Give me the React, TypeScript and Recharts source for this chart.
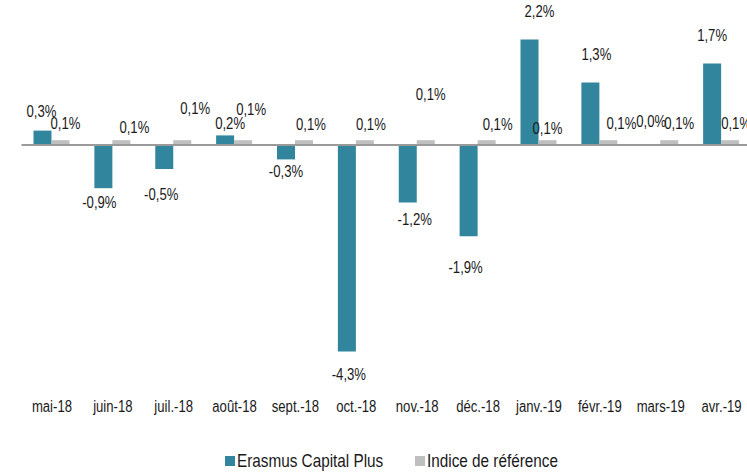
import * as React from 'react';
import { Bar, BarChart, LabelList, ReferenceLine, XAxis, YAxis } from 'recharts';

const months = [
  'mai-18', 'juin-18', 'juil.-18', 'août-18', 'sept.-18', 'oct.-18',
  'nov.-18', 'déc.-18', 'janv.-19', 'févr.-19', 'mars-19', 'avr.-19',
];
const erasmusCapitalPlus = [0.3, -0.9, -0.5, 0.2, -0.3, -4.3, -1.2, -1.9, 2.2, 1.3, 0.0, 1.7];
const indiceReference = [0.1, 0.1, 0.1, 0.1, 0.1, 0.1, 0.1, 0.1, 0.1, 0.1, 0.1, 0.1];

const SERIES_NAMES = ['Erasmus Capital Plus', 'Indice de référence'];
const TEAL = '#31859c';
const GREY = '#bfbfbf';
const INK = '#1a1a1a';
const FONT = "'Liberation Sans', Arial, sans-serif";
// the source uses a narrow face; Liberation Sans squeezed horizontally gets close
const NARROW = 0.82;

// label placement, the way the source chart had them (distance from bar end, sideways shift)
const fundLabelGap = [19, 14, 26, 12, 12, 23, 17, 31, 28, 28, 22, 28];
const fundLabelShift = [-1, -4, -3, 5, 0, 2, 7, -3, 10, 6, 0, 0];
const indexLabelGap = [17, 13, 32, 31, 16, 16, 46, 16, 12, 17, 17, 17];
const indexLabelShift = [5, 13, 13, 8, 7, 6, 5, 11, 0, 13, 10, 6];

const fmt = (v: number) => `${v.toFixed(1).replace('.', ',')}%`;

function NarrowText({ x, y, children }: { x: number; y: number; children: React.ReactNode }) {
  return (
    <text
      transform={`translate(${x},${y}) scale(${NARROW},1)`}
      textAnchor="middle"
      dominantBaseline="central"
      fontFamily={FONT}
      fontSize={16}
      fill={INK}
    >
      {children}
    </text>
  );
}

function makeLabel(gaps: number[], shifts: number[]) {
  return function BarValueLabel(props: any) {
    const { x, y, width, height, value, index } = props;
    const top = Math.min(y, y + height);
    const bottom = Math.max(y, y + height);
    const cy = value < 0 ? bottom + gaps[index] : top - gaps[index];
    return <NarrowText x={x + width / 2 + shifts[index]} y={cy}>{fmt(Number(value))}</NarrowText>;
  };
}

function MonthTick(props: any) {
  const { x, y, payload } = props;
  return <NarrowText x={x} y={y}>{payload.value}</NarrowText>;
}

const legendText: React.CSSProperties = {
  position: 'absolute',
  top: 450,
  fontSize: 18.67,
  lineHeight: '22px',
  color: INK,
  whiteSpace: 'nowrap',
  transform: `scaleX(${NARROW})`,
  transformOrigin: 'left center',
};

export default function App() {
  const data = months.map((month, i) => ({
    month,
    fund: erasmusCapitalPlus[i],
    index: indiceReference[i],
  }));

  return (
    <div
      style={{
        position: 'absolute',
        left: 0,
        top: 0,
        width: 747,
        height: 472,
        overflow: 'hidden',
        background: '#fff',
        fontFamily: FONT,
      }}
    >
      <BarChart
        width={752}
        height={472}
        data={data}
        margin={{ top: 1, right: 0, left: 21.5, bottom: 57 }}
        barGap={0}
        barSize={18}
      >
        <XAxis
          dataKey="month"
          axisLine={false}
          tickLine={false}
          interval={0}
          height={30}
          tickMargin={16}
          tick={<MonthTick />}
        />
        <YAxis hide domain={[-5, 3]} />
        <Bar dataKey="fund" name={SERIES_NAMES[0]} fill={TEAL} minPointSize={1} isAnimationActive={false}>
          <LabelList dataKey="fund" content={makeLabel(fundLabelGap, fundLabelShift)} />
        </Bar>
        <Bar dataKey="index" name={SERIES_NAMES[1]} fill={GREY} isAnimationActive={false}>
          <LabelList dataKey="index" content={makeLabel(indexLabelGap, indexLabelShift)} />
        </Bar>
        <ReferenceLine y={0} stroke="#9a9a9a" strokeWidth={2} />
      </BarChart>

      <span style={{ position: 'absolute', left: 225, top: 456, width: 10, height: 10, background: TEAL }} />
      <span style={{ ...legendText, left: 237 }}>{SERIES_NAMES[0]}</span>
      <span style={{ position: 'absolute', left: 415, top: 456, width: 10, height: 10, background: GREY }} />
      <span style={{ ...legendText, left: 427 }}>{SERIES_NAMES[1]}</span>
    </div>
  );
}
